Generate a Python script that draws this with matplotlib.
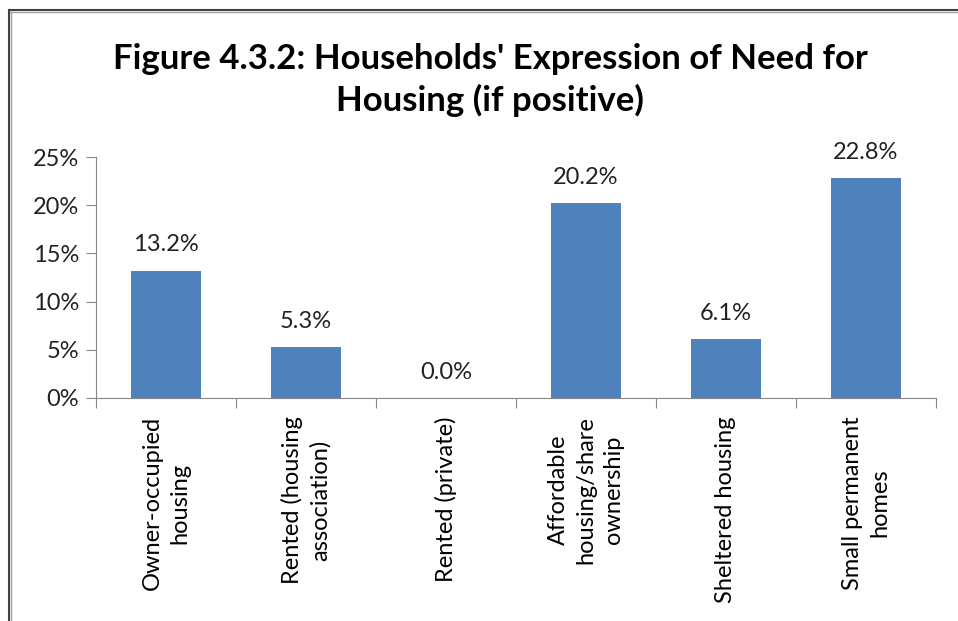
import matplotlib
matplotlib.use("Agg")
import matplotlib.pyplot as plt
from matplotlib.lines import Line2D

categories = ["Owner-occupied\nhousing", "Rented (housing\nassociation)", "Rented (private)",
              "Affordable\nhousing/share\nownership", "Sheltered housing", "Small permanent\nhomes"]
values = [13.2, 5.3, 0.0, 20.2, 6.1, 22.8]
yticks = [0, 5, 10, 15, 20, 25]
ytick_labels = ["0%", "5%", "10%", "15%", "20%", "25%"]
title = "Figure 4.3.2: Households' Expression of Need for\nHousing (if positive)"

plt.rcParams['font.family'] = ['Lato', 'DejaVu Sans']
W, H = 958, 621
fig = plt.figure(figsize=(W/100, H/100), dpi=100)

# axes: x from 96 to 936 px, y from 157 (25%) to 398 (0%)
ax = fig.add_axes([96/W, 1-398/H, 840/W, (398-157)/H])
x = list(range(len(categories)))
ax.bar(x, values, width=0.5, color="#4F81BD")
ax.set_xlim(-0.5, len(categories)-0.5)
ax.set_ylim(0, 25)
ax.set_yticks(yticks)
ax.set_yticklabels(ytick_labels, fontsize=17)
ax.set_xticks([i - 0.5 for i in range(len(categories)+1)])
ax.set_xticklabels([])
ax.set_xticks(x, minor=True)
ax.set_xticklabels(categories, minor=True, rotation=90, fontsize=17, ha='center', va='top',
                   multialignment='center', linespacing=1.4)
ax.tick_params(axis='x', which='minor', length=0, pad=13)
ax.tick_params(axis='x', which='major', length=7, direction='out', color='#868686')
ax.tick_params(axis='y', length=7, direction='out', color='#868686', pad=5, labelcolor='#222222')
for s in ['top', 'right']:
    ax.spines[s].set_visible(False)
for s in ['left', 'bottom']:
    ax.spines[s].set_color('#868686')
for i, v in enumerate(values):
    ax.annotate(f"{v:.1f}%", (i, v), xytext=(0, 11), textcoords='offset points',
                ha='center', va='bottom', fontsize=17, color='#222222')

fig.text(0.5 * (117+863)/W, 1-80/H, title, ha='center', va='center', fontsize=25,
         fontweight='bold', linespacing=1.3)

# frame lines (top and left)
fig.add_artist(Line2D([9/W, 1], [1-10/H, 1-10/H], color='#404040', lw=1.5, transform=fig.transFigure))
fig.add_artist(Line2D([9/W, 1], [1-12/H, 1-12/H], color='#a0a0a0', lw=1, transform=fig.transFigure))
fig.add_artist(Line2D([9/W, 9/W], [0, 1-10/H], color='#404040', lw=1.5, transform=fig.transFigure))
fig.add_artist(Line2D([11/W, 11/W], [0, 1-12/H], color='#a0a0a0', lw=1, transform=fig.transFigure))

fig.savefig("out.png", dpi=100)
